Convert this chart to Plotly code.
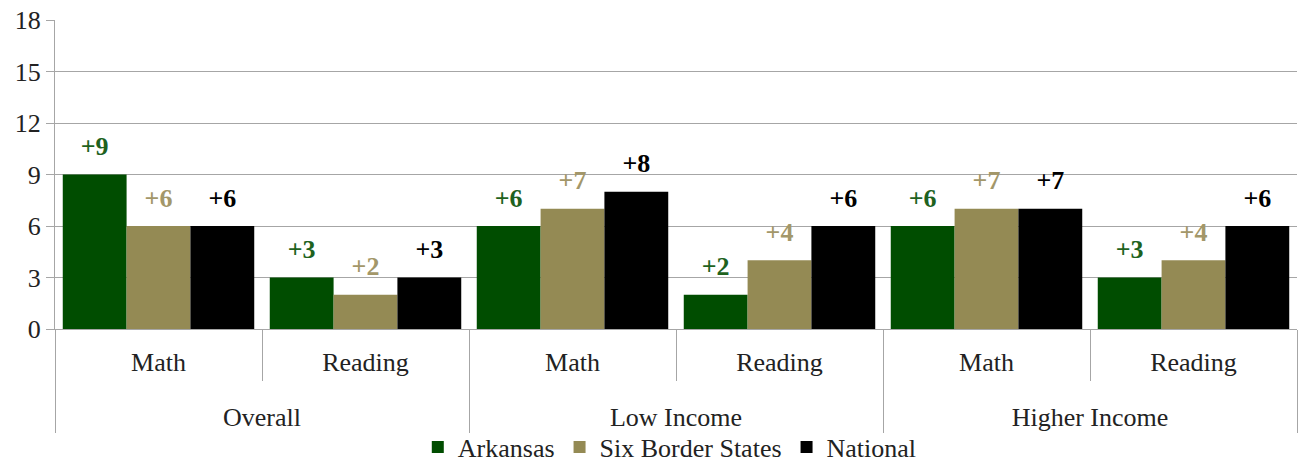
import plotly.graph_objects as go

groups = ["Overall", "Overall", "Low Income", "Low Income", "Higher Income", "Higher Income"]
subjects = ["Math", "Reading", "Math", "Reading", "Math", "Reading"]
arkansas = [9, 3, 6, 2, 6, 3]
border_states = [6, 2, 7, 4, 7, 4]
national = [6, 3, 8, 6, 7, 6]
y_ticks = [0, 3, 6, 9, 12, 15, 18]

series = [
    ("Arkansas", arkansas, "#004D00", "#1E621E"),
    ("Six Border States", border_states, "#948A54", "#A39769"),
    ("National", national, "#000000", "#000000"),
]

FONT = "Liberation Serif"
group_labels = ["<br>" + g for g in groups]  # extra line = spacing between levels

fig = go.Figure()
for i, (name, vals, col, tcol) in enumerate(series):
    fig.add_trace(go.Bar(
        x=[group_labels, subjects], y=vals, name=name, marker_color=col,
        marker_line_width=0, offsetgroup=str(i), hoverinfo="skip",
    ))
for i, (name, vals, col, tcol) in enumerate(series):
    fig.add_trace(go.Scatter(
        x=[group_labels, subjects], y=vals, mode="markers+text",
        text=[f"+{v}" for v in vals], textposition="top center",
        textfont=dict(family=FONT, size=26, color=tcol, weight="bold"),
        marker=dict(size=19, color="rgba(0,0,0,0)"),
        offsetgroup=str(i), showlegend=False, hoverinfo="skip", cliponaxis=False,
    ))

grid = "#A6A6A6"
fig.update_layout(
    width=1298, height=465,
    margin=dict(l=55, r=1, t=20, b=136, autoexpand=False),
    paper_bgcolor="white", plot_bgcolor="white",
    barmode="group", bargap=0.075, bargroupgap=0,
    scattermode="group", scattergap=0.075,
    font=dict(family=FONT, size=26, color="#222222"),
    showlegend=True,
    legend=dict(orientation="h", xanchor="center", x=0.495,
                y=-118 / 309, yanchor="middle", bgcolor="rgba(0,0,0,0)",
                font=dict(size=26, family=FONT), itemclick=False),
    xaxis=dict(type="multicategory", showline=True, linecolor=grid,
               showdividers=True, dividercolor=grid, dividerwidth=1,
               ticks="outside", tickson="boundaries", ticklen=51, tickcolor=grid,
               automargin=False, ticklabelstandoff=10,
               tickfont=dict(size=26, family=FONT, color="#222222")),
    yaxis=dict(range=[0, 18], tickvals=y_ticks, showgrid=True, gridcolor=grid,
               showline=True, linecolor=grid, ticks="outside", ticklen=8,
               tickcolor=grid, zeroline=False, automargin=False,
               tickfont=dict(size=26, family=FONT, color="#222222")),
)
fig.write_html("out.html", config={"displayModeBar": False},
               post_script="document.body.style.margin='0';")
